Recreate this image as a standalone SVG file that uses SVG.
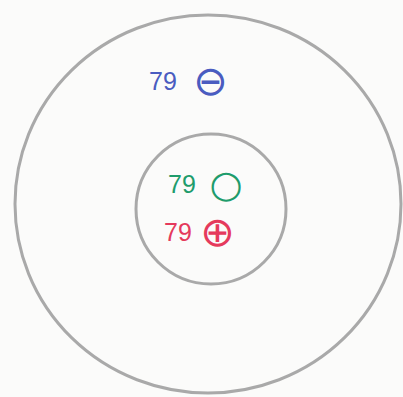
<svg xmlns="http://www.w3.org/2000/svg" width="403" height="397" viewBox="0 0 403 397">
<style>
.ring{fill:none;stroke:#a9a9a9;stroke-width:3}
.num{font-family:"Liberation Sans",Arial,sans-serif;font-size:25px}
.sym{font-family:"DejaVu Sans",sans-serif;font-size:41px;text-anchor:middle;dominant-baseline:central}
.blue{fill:#4a5cc0}
.green{fill:#1e9c6c}
.red{fill:#e53a5c}
</style>
<rect width="403" height="397" fill="#fbfbfa"/>
<g id="outer-shell"><ellipse class="ring" cx="208" cy="204" rx="193" ry="189"/></g>
<g id="nucleus"><circle class="ring" cx="211" cy="209" r="75"/></g>
<g id="electrons">
<text class="num blue" x="149" y="90">79</text>
<text class="sym blue" x="210.5" y="80.5">⊖</text>
</g>
<g id="neutrons">
<text class="num green" x="168" y="193">79</text>
<text class="sym green" x="226" y="183.5" style="font-size:38px">○</text>
</g>
<g id="protons">
<text class="num red" x="164" y="241">79</text>
<text class="sym red" x="217.5" y="231.5">⊕</text>
</g>
</svg>
